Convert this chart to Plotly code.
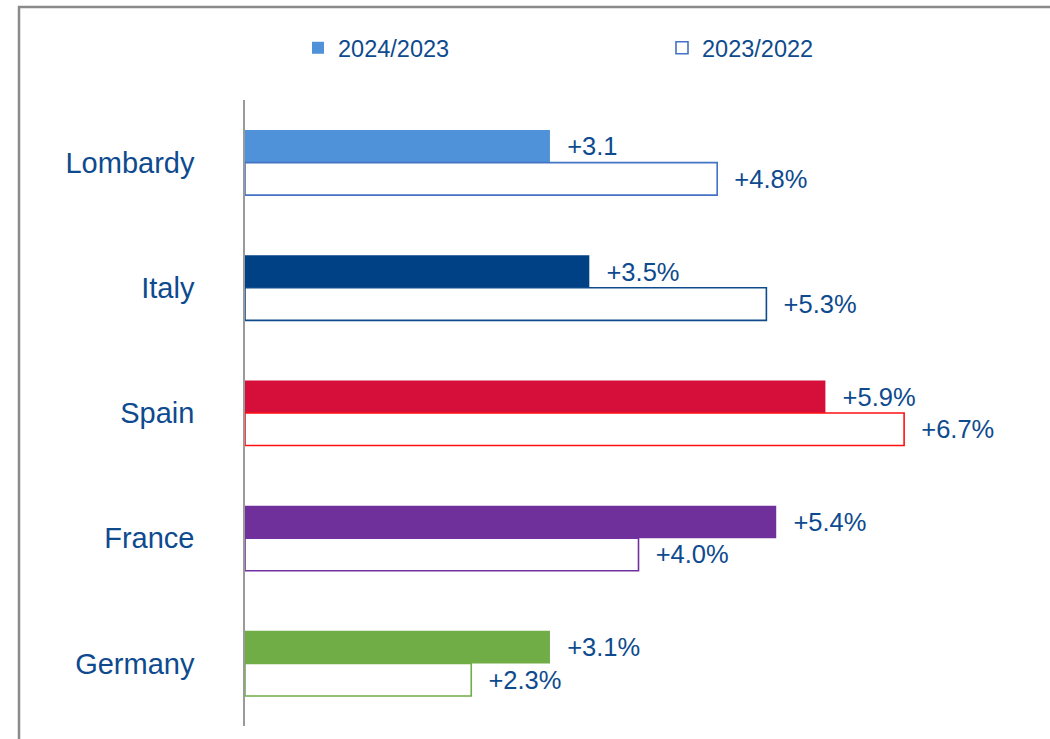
import plotly.graph_objects as go

categories = ["Lombardy", "Italy", "Spain", "France", "Germany"]
values_2024 = [3.1, 3.5, 5.9, 5.4, 3.1]
values_2023 = [4.8, 5.3, 6.7, 4.0, 2.3]
labels_2024 = ["+3.1", "+3.5%", "+5.9%", "+5.4%", "+3.1%"]
labels_2023 = ["+4.8%", "+5.3%", "+6.7%", "+4.0%", "+2.3%"]
series_names = ["2024/2023", "2023/2022"]

fill_colors = ["#4F92D9", "#004185", "#D50F3A", "#70309C", "#70AD47"]
outline_colors = ["#4472C4", "#0F4A8A", "#FF1010", "#7030A0", "#70AD47"]

TEXT_BLUE = "#0E4A8E"
FONT = "Arial, Liberation Sans, sans-serif"
pad = "\u00a0\u00a0"

fig = go.Figure()
fig.add_trace(go.Bar(
    y=categories, x=values_2024, orientation="h", name=series_names[0],
    marker=dict(color=fill_colors, line=dict(width=0)),
    text=[pad + t for t in labels_2024], textposition="outside",
    textfont=dict(family=FONT, size=25.5, color=TEXT_BLUE),
    cliponaxis=False, constraintext="none", hoverinfo="skip",
    legend="legend",
))
fig.add_trace(go.Bar(
    y=categories, x=values_2023, orientation="h", name=series_names[1],
    marker=dict(color="white", line=dict(color=outline_colors, width=1.6)),
    text=[pad + t for t in labels_2023], textposition="outside",
    textfont=dict(family=FONT, size=25.5, color=TEXT_BLUE),
    cliponaxis=False, constraintext="none", hoverinfo="skip",
    legend="legend2",
))

W, H = 1050, 739
# target pixel positions of the plot area
PL, PR, PT, PB = 245, 1032, 100, 726
L, T, R, B = PL, PT, W - PR, H - PB
pw, ph = PR - PL, PB - PT


def px_to_paper_x(px):
    return (px - PL) / pw


def px_to_paper_y(py):
    return (PB - py) / ph


legend_common = dict(
    orientation="h", xanchor="left", yanchor="middle",
    font=dict(family=FONT, size=23.5, color=TEXT_BLUE),
    itemclick=False, itemdoubleclick=False, bgcolor="rgba(0,0,0,0)",
)

fig.update_layout(
    width=W, height=H,
    margin=dict(l=L, r=R, t=T, b=B),
    plot_bgcolor="white", paper_bgcolor="white",
    barmode="group", bargap=0.48, bargroupgap=0,
    font=dict(family=FONT, color=TEXT_BLUE),
    showlegend=True,
    hovermode=False,
    legend=dict(x=px_to_paper_x(298), y=px_to_paper_y(48), **legend_common),
    legend2=dict(x=px_to_paper_x(662), y=px_to_paper_y(48), **legend_common),
    xaxis=dict(range=[0, 8], visible=False, fixedrange=True),
    yaxis=dict(
        autorange="reversed", showline=True, linecolor="#9A9A9A", linewidth=1.5,
        showgrid=False, ticks="", ticklabelstandoff=43,
        tickfont=dict(family=FONT, size=29, color=TEXT_BLUE), fixedrange=True,
    ),
    shapes=[dict(
        type="rect", xref="paper", yref="paper",
        x0=px_to_paper_x(19), x1=px_to_paper_x(1080),
        y0=px_to_paper_y(780), y1=px_to_paper_y(7),
        line=dict(color="#8A8A8A", width=2.5), fillcolor="rgba(0,0,0,0)",
        layer="below",
    )],
)

fig.write_html(
    "out.html",
    config={"displayModeBar": False},
    post_script="document.body.style.margin='0';document.body.style.padding='0';",
)
